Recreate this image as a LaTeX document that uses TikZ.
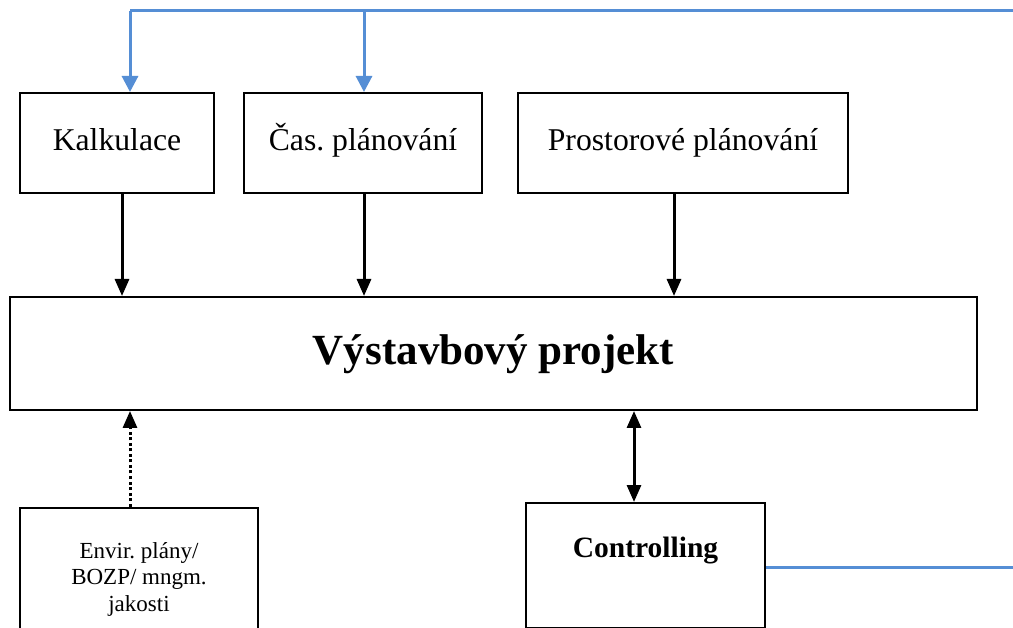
\documentclass[tikz,border=0pt]{standalone}
\usepackage{fontspec}
\setmainfont{Liberation Serif}
\usetikzlibrary{arrows.meta}
\definecolor{linkblue}{RGB}{85,142,213}
\tikzset{
  box/.style={draw=black, line width=2pt, inner sep=0pt, align=center, fill=white},
  lbl/.style={font=\fontsize{31.7}{38}\selectfont, text height=22pt, text depth=6pt},
  blk/.style={draw=black, line width=3pt, -{Triangle[length=17pt,width=14pt]}},
  blu/.style={draw=linkblue, line width=3pt},
  bluarr/.style={blu, -{Triangle[length=16pt,width=16pt]}},
}
\frenchspacing
\begin{document}
\begin{tikzpicture}[x=1pt,y=-1pt]
\useasboundingbox (0,0) rectangle (1013,628);
\fill[white] (0,0) rectangle (1013,628);
\clip (0,0) rectangle (1013,628);

% top boxes
\node[box, lbl, minimum width=194pt, minimum height=100pt] (kalk) at (117,143) {Kalkulace};
\node[box, lbl, minimum width=238pt, minimum height=100pt] (cas) at (363,143) {Čas. plánování};
\node[box, lbl, minimum width=330pt, minimum height=100pt] (pros) at (683,143) {Prostorové plánování};

% main box
\node[box, minimum width=967pt, minimum height=113pt,
      font=\fontsize{43}{50}\selectfont\bfseries, text height=30pt, text depth=8pt] (main) at (493.5,353.5) {Výstavbový projekt};

% bottom boxes
\node[box, minimum width=238pt, minimum height=143pt,
      font=\fontsize{23}{26.5}\selectfont] (envir) at (139,579) {Envir. plány/\\BOZP/ mngm.\\jakosti};
\node[box, minimum width=239pt, minimum height=125pt] (ctrl) at (645.5,565.5) {};
\node[anchor=base, font=\fontsize{29.5}{34}\selectfont\bfseries, inner sep=0pt] (ctrltxt) at (645.5,557) {Controlling};

% blue feedback lines
\coordinate (tl) at (130,11);
\coordinate (tm) at (364,11);
\coordinate (tr) at (1013,11);
\coordinate (br) at (1013,567);
\draw[blu] (tl) -- (tr);
\draw[bluarr] (tl) -- (tl |- kalk.north);
\draw[bluarr] (tm) -- (tm |- cas.north);
\draw[blu] (ctrl.east |- br) -- (br);

% black arrows into main
\draw[blk] ([xshift=5pt]kalk.south) -- ([xshift=5pt]kalk.south |- main.north);
\draw[blk] ([xshift=1pt]cas.south) -- ([xshift=1pt]cas.south |- main.north);
\draw[blk] ([xshift=-9pt]pros.south) -- ([xshift=-9pt]pros.south |- main.north);

% dotted arrow from envir
\draw[blk, dash pattern=on 3pt off 2.5pt, line width=3pt] (tl |- envir.north) -- (tl |- main.south);

% double arrow controlling
\draw[blk, {Triangle[length=17pt,width=14pt]}-{Triangle[length=17pt,width=14pt]}] ([xshift=-11.5pt]ctrl.north) -- ([xshift=-11.5pt]ctrl.north |- main.south);
\end{tikzpicture}
\end{document}
